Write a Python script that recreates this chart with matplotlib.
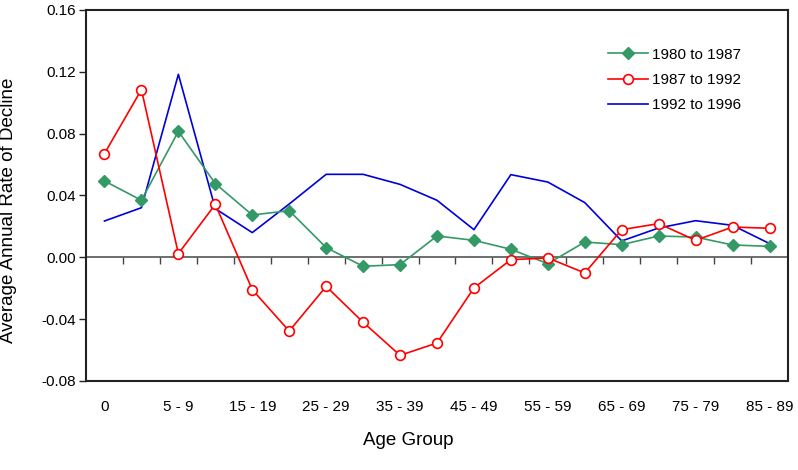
import matplotlib
matplotlib.use("Agg")
import matplotlib.pyplot as plt
import numpy as np

plt.rcParams['font.family'] = ['Liberation Sans', 'DejaVu Sans']

age_groups = ["0", "1 - 4", "5 - 9", "10 - 14", "15 - 19", "20 - 24", "25 - 29", "30 - 34",
              "35 - 39", "40 - 44", "45 - 49", "50 - 54", "55 - 59", "60 - 64", "65 - 69",
              "70 - 74", "75 - 79", "80 - 84", "85 - 89"]

s_1980_1987 = [0.0494, 0.0369, 0.0815, 0.0477, 0.0274, 0.0302, 0.0063, -0.0058, -0.0047,
               0.0138, 0.0110, 0.0052, -0.0041, 0.0099, 0.0082, 0.0138, 0.0131, 0.0080, 0.0071]
s_1987_1992 = [0.0671, 0.1085, 0.0024, 0.0343, -0.0209, -0.0477, -0.0188, -0.0420, -0.0634,
               -0.0554, -0.0198, -0.0015, -0.0004, -0.0101, 0.0179, 0.0218, 0.0110, 0.0196, 0.0188]
s_1992_1996 = [0.0235, 0.0321, 0.1184, 0.0315, 0.0160, 0.0345, 0.0537, 0.0537, 0.0472,
               0.0369, 0.0179, 0.0535, 0.0487, 0.0354, 0.0106, 0.0190, 0.0237, 0.0207, 0.0089]

y_ticks = [-0.08, -0.04, 0.00, 0.04, 0.08, 0.12, 0.16]
y_min, y_max = -0.08, 0.16

fig = plt.figure(figsize=(7.98, 4.70), dpi=100)
ax = fig.add_axes([86/798, 1 - 381/470, 702/798, 371/470])

x = np.arange(len(age_groups))
ax.plot(x, s_1980_1987, color='#339966', lw=1.2, marker='D', ms=6,
        mfc='#339966', mec='#339966', label='1980 to 1987', zorder=3)
ax.plot(x, s_1987_1992, color='#FF0000', lw=1.2, marker='o', ms=7,
        mfc='white', mec='#FF0000', mew=1.2, label='1987 to 1992', zorder=4)
ax.plot(x, s_1992_1996, color='#0000DD', lw=1.2, label='1992 to 1996', zorder=2)

ax.set_xlim(-0.5, len(age_groups) - 0.5)
ax.set_ylim(y_min, y_max)
ax.set_yticks(y_ticks)
ax.set_yticklabels([f"{v:.2f}" for v in y_ticks])
ax.set_xticks(x[::2])
ax.set_xticklabels(age_groups[::2])

ax.tick_params(axis='y', direction='out', length=5, width=1, pad=2, labelsize=11, color='#222222')
ax.tick_params(axis='x', length=0, pad=14, labelsize=11)

for sp in ax.spines.values():
    sp.set_linewidth(1.5)
    sp.set_color('#222222')

# zero line with category-boundary ticks
zero_loc = (0 - y_min) / (y_max - y_min)
sec = ax.secondary_xaxis(zero_loc)
sec.set_xticks(np.arange(len(age_groups) - 1) + 0.5)
sec.tick_params(direction='out', length=5, width=1, color='#444444', labelbottom=False, labeltop=False)
sec.set_xticklabels([])
sec.spines['bottom'].set_color('#555555')
sec.spines['bottom'].set_linewidth(1.2)

ax.set_xlabel('Age Group', fontsize=13.5)
ax.xaxis.set_label_coords((408 - 86) / 702, (381 - 432) / 371)
ax.set_ylabel('Average Annual Rate of Decline', fontsize=13.5)
ax.yaxis.set_label_coords((17 - 86) / 702, (381 - 210) / 371)

leg = ax.legend(loc='center left', bbox_to_anchor=((608 - 86) / 702, (381 - 80) / 371),
                frameon=False, fontsize=11, handlelength=2.6, handletextpad=0.25,
                labelspacing=0.75, borderpad=0, borderaxespad=0)

fig.savefig('out.png', dpi=100)
